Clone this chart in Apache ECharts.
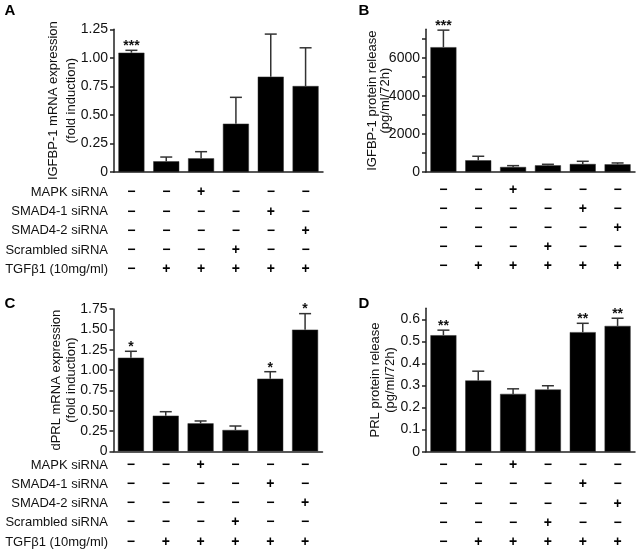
<!DOCTYPE html>
<html>
<head>
<meta charset="utf-8">
<script src="https://cdn.jsdelivr.net/npm/echarts@6/dist/echarts.min.js"></script>
<style>
html,body{margin:0;padding:0;background:#fff;}
#chart{width:639px;height:552px;}
</style>
</head>
<body>
<div id="chart"></div>
<script>
// ---- Data ----
const groups = ['Control', 'TGFβ1', 'TGFβ1 + MAPK siRNA', 'TGFβ1 + Scrambled siRNA', 'TGFβ1 + SMAD4-1 siRNA', 'TGFβ1 + SMAD4-2 siRNA'];

// treatment table (1 = +, 0 = −)
const rowNames = ['MAPK siRNA', 'SMAD4-1 siRNA', 'SMAD4-2 siRNA', 'Scrambled siRNA', 'TGFβ1 (10mg/ml)'];
const mapk      = [0, 0, 1, 0, 0, 0];
const smad41    = [0, 0, 0, 0, 1, 0];
const smad42    = [0, 0, 0, 0, 0, 1];
const scrambled = [0, 0, 0, 1, 0, 0];
const tgf       = [0, 1, 1, 1, 1, 1];

// Panel A: IGFBP-1 mRNA (fold induction)
const aMean = [1.045, 0.094, 0.120, 0.423, 0.835, 0.753];
const aSem  = [0.021, 0.037, 0.058, 0.231, 0.373, 0.335];
const aStars = ['***', '', '', '', '', ''];
const aTicks = [0, 0.25, 0.5, 0.75, 1.0, 1.25];

// Panel B: IGFBP-1 protein release (pg/ml/72h)
const bMean = [6560, 617, 264, 352, 422, 405];
const bSem  = [896, 210, 70, 53, 141, 70];
const bStars = ['***', '', '', '', '', ''];
const bTicks = [0, 1000, 2000, 3000, 4000, 5000, 6000, 7000];
const bLabels = [0, 2000, 4000, 6000];

// Panel C: dPRL mRNA (fold induction)
const cMean = [1.151, 0.438, 0.344, 0.262, 0.893, 1.496];
const cSem  = [0.079, 0.049, 0.029, 0.049, 0.086, 0.197];
const cStars = ['*', '', '', '', '*', '*'];
const cTicks = [0, 0.25, 0.5, 0.75, 1.0, 1.25, 1.5, 1.75];

// Panel D: PRL protein release (pg/ml/72h)
const dMean = [0.528, 0.323, 0.262, 0.282, 0.542, 0.570];
const dSem  = [0.023, 0.042, 0.023, 0.017, 0.040, 0.035];
const dStars = ['**', '', '', '', '**', '**'];
const dTicks = [0, 0.1, 0.2, 0.3, 0.4, 0.5, 0.6];

// ---- Styling / layout ----
const FONT = 'Liberation Sans, Arial, Helvetica, sans-serif';
const AX = '#222';
const tableRows = [mapk, smad41, smad42, scrambled, tgf];

function tableLabel(i) {
  return tableRows.map(r => r[i] ? '+' : '\u2212').join('\n');
}

const panels = [
  {id: 'A', left: 114, top: 29.3, height: 142.7, mean: aMean, sem: aSem, stars: aStars,
   max: 1.25, ticks: aTicks, labels: aTicks, fmt: v => v === 0 ? '0' : v.toFixed(2),
   name: 'IGFBP-1 mRNA expression\n(fold induction)', nameGap: 34, nameLH: 18,
   tblMargin: 10.7, tblLH: 19.3},
  {id: 'B', left: 426, top: 29.3, height: 142.7, mean: bMean, sem: bSem, stars: bStars,
   max: 7500, ticks: bTicks, labels: bLabels, fmt: v => String(v),
   name: 'IGFBP-1 protein release\n(pg/ml/72h)', nameGap: 34.5, nameLH: 12.5,
   tblMargin: 9, tblLH: 18.9},
  {id: 'C', left: 113.5, top: 309, height: 142.3, mean: cMean, sem: cSem, stars: cStars,
   max: 1.75, ticks: cTicks, labels: cTicks, fmt: v => v === 0 ? '0' : v.toFixed(2),
   name: 'dPRL mRNA expression\n(fold induction)', nameGap: 35, nameLH: 15,
   tblMargin: 4.1, tblLH: 19.2},
  {id: 'D', left: 426, top: 308.3, height: 143.4, mean: dMean, sem: dSem, stars: dStars,
   max: 0.65, ticks: dTicks, labels: dTicks, fmt: v => v === 0 ? '0' : v.toFixed(1),
   name: 'PRL protein release\n(pg/ml/72h)', nameGap: 28.5, nameLH: 15,
   tblMargin: 4.1, tblLH: 19.2}
];

const grid = [], xAxis = [], yAxis = [], series = [];
panels.forEach((p, k) => {
  grid.push({left: p.left, top: p.top, width: 209, height: p.height,
             containLabel: false, outerBoundsMode: 'none'});
  xAxis.push({
    type: 'category', gridIndex: k, data: groups,
    axisLine: {lineStyle: {color: AX, width: 1.5}},
    axisTick: {show: false},
    axisLabel: {
      interval: 0, margin: p.tblMargin,
      formatter: (v, i) => tableLabel(i),
      fontFamily: FONT, fontSize: 14, fontWeight: 'bold', color: '#000',
      lineHeight: p.tblLH
    },
    splitLine: {show: false}
  });
  yAxis.push({
    type: 'value', gridIndex: k, min: 0, max: p.max,
    axisLine: {show: true, lineStyle: {color: AX, width: 1.5}},
    axisTick: {show: true, length: 4, lineStyle: {color: AX, width: 1.5}, customValues: p.ticks},
    axisLabel: {margin: 6, fontFamily: FONT, fontSize: 14, color: '#111',
                customValues: p.labels, formatter: p.fmt},
    splitLine: {show: false},
    name: p.name, nameLocation: 'middle', nameRotate: 90, nameGap: p.nameGap,
    nameMoveOverlap: false,
    nameTextStyle: {fontFamily: FONT, fontSize: 13, color: '#111', lineHeight: p.nameLH, align: 'center'}
  });
  series.push({
    type: 'bar', xAxisIndex: k, yAxisIndex: k, data: p.mean,
    barWidth: 26, itemStyle: {color: '#000', borderColor: '#333', borderWidth: 0.5},
    silent: true, animation: false
  });
  series.push({
    type: 'custom', xAxisIndex: k, yAxisIndex: k, animation: false, silent: true,
    data: p.mean.map((m, i) => [i, m, m + p.sem[i]]),
    encode: {x: 0, y: [1, 2]},
    renderItem: (params, api) => {
      const i = api.value(0);
      const base = api.coord([i, api.value(1)]);
      const top = api.coord([i, api.value(2)]);
      const st = {stroke: '#333', lineWidth: 1.5};
      const children = [
        {type: 'line', shape: {x1: base[0], y1: base[1], x2: top[0], y2: top[1]}, style: st},
        {type: 'line', shape: {x1: top[0] - 6, y1: top[1], x2: top[0] + 6, y2: top[1]}, style: st}
      ];
      const s = p.stars[params.dataIndex];
      if (s) {
        children.push({type: 'text', style: {text: s, x: top[0], y: top[1] - 4,
          align: 'center', verticalAlign: 'middle', fontFamily: FONT, fontSize: 14,
          fontWeight: 'bold', fill: '#111'}});
      }
      return {type: 'group', children: children};
    }
  });
});

// Row labels of treatment tables, panel letters
const graphic = [];
const rowTopA = 192.3, rowTopC = 465, rowStep = 19.3;
rowNames.forEach((n, r) => {
  [rowTopA, rowTopC].forEach(y0 => {
    graphic.push({type: 'text', x: 108, y: y0 + r * rowStep,
      style: {text: n, align: 'right', verticalAlign: 'middle', fontFamily: FONT, fontSize: 13, fill: '#111'}});
  });
});
[['A', 10, 11], ['B', 364, 11], ['C', 10, 304], ['D', 364, 304]].forEach(l => {
  graphic.push({type: 'text', x: l[1], y: l[2],
    style: {text: l[0], align: 'center', verticalAlign: 'middle', fontFamily: FONT, fontSize: 15, fontWeight: 'bold', fill: '#000'}});
});

const chart = echarts.init(document.getElementById('chart'), null, {renderer: 'canvas'});
chart.setOption({
  animation: false,
  backgroundColor: '#fff',
  grid, xAxis, yAxis, series, graphic
});
</script>
</body>
</html>
